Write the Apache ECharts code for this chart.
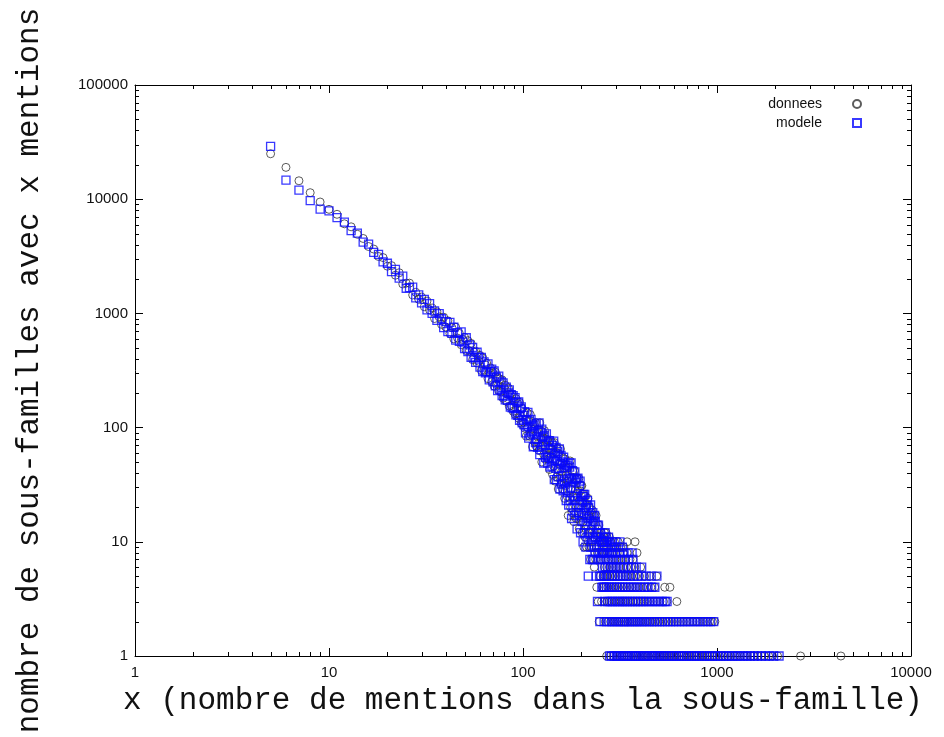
<!DOCTYPE html>
<html>
<head>
<meta charset="utf-8">
<script src="https://cdn.jsdelivr.net/npm/echarts@6/dist/echarts.min.js"></script>
<style>
html, body { margin: 0; padding: 0; background: #fff; }
#chart { width: 944px; height: 737px; }
</style>
</head>
<body>
<div id="chart"></div>
<script>
// first x value of the two "main" arrays, one count per integer x
var firstMention = 5;

// donnees : count for x = 5, 6, 7 ... 260
var donneesMain = [
  25000, 19000, 14500, 11400, 9450, 8150, 7375, 6090, 5730, 4930, 4530, 3850, 3660, 3150, 3080, 2590,
  2620, 2160, 2270, 1810, 1840, 1840, 1450, 1530, 1330, 1390,
  1144, 1283, 1074, 1115, 902, 1031, 930, 802, 926, 760,
  861, 666, 749, 598, 756, 608, 667, 532, 590, 616,
  473, 577, 470, 546, 393, 458, 466, 367, 382, 429,
  316, 409, 317, 354, 366, 268, 305, 333, 253, 302,
  231, 306, 238, 273, 210, 266, 205, 262, 181, 221,
  235, 170, 197, 222, 154, 196, 156, 196, 139, 170,
  131, 179, 133, 162, 121, 166, 127, 109, 147, 112,
  136, 99, 117, 84, 135, 100, 115, 84, 130, 87, 97, 68, 109, 98, 75, 111, 69, 84, 96, 73,
  63, 110, 69, 80, 50, 92, 81, 58, 94, 53, 67, 79, 56, 78, 53, 66, 43, 78, 55, 65,
  74, 39, 61, 46, 74, 34, 52, 61, 37, 66, 43, 29, 59, 48, 36, 65, 32, 41, 49, 29,
  54, 36, 44, 24, 53, 31, 38, 44, 25, 34,
  17, 45, 36, 24, 51, 20, 29, 37, 18, 42, 25, 33, 15, 42, 21, 28, 35, 16, 26, 36,
  16, 28, 20, 36, 13, 23, 28, 15, 31, 18,
  31, 12, 22, 15, 26, 9, 17, 22, 11, 25, 13, 17, 9, 21, 14, 24, 10, 17, 9, 20,
  12, 16, 7, 13, 18, 9, 19, 10, 7, 15, 11, 17, 6, 12, 8, 14, 7, 17, 9, 4,
  12, 8, 13, 3, 10, 14, 2, 8, 11, 5, 10, 7, 12, 3, 8, 10, 4, 9, 5, 8
];

// modele : count for x = 5, 6, 7 ... 260
var modeleMain = [
  29000, 14700, 12000, 9700, 8200, 7900, 6900, 6300, 5300, 5050, 4200, 4050, 3420, 3290, 2830, 2750,
  2320, 2430, 2040, 2120, 1660, 1680, 1700, 1370, 1450, 1235,
  1328, 1073, 1218, 999, 1052, 869, 994, 898, 751, 848,
  692, 836, 670, 756, 583, 678, 569, 688, 561, 493,
  612, 464, 530, 413, 503, 409, 373, 457, 414, 338,
  412, 310, 376, 301, 308, 362, 262, 309, 325, 252,
  313, 232, 276, 211, 282, 216, 251, 191, 246, 189,
  175, 226, 174, 201, 214, 151, 194, 149, 190, 147,
  183, 129, 166, 128, 168, 116, 147, 152, 110, 128,
  106, 138, 90, 117, 102, 136, 81, 114, 86, 118, 92, 103, 68, 105, 89, 74, 108, 79, 67, 95,
  110, 58, 91, 64, 97, 71, 83, 49, 85, 70, 55, 88, 60, 49, 75, 55, 77, 45, 64, 54,
  46, 70, 51, 76, 35, 59, 44, 67, 35, 51, 62, 37, 44, 65, 29, 48, 57, 32, 38, 50,
  28, 55, 34, 45, 29, 47, 23, 35, 47, 28,
  49, 21, 36, 45, 23, 30, 49, 16, 34, 42, 20, 25, 36, 17, 41, 23, 33, 18, 35, 13,
  25, 36, 18, 18, 31, 21, 34, 12, 25, 17,
  23, 15, 25, 10, 26, 19, 12, 26, 14, 20, 9, 21, 15, 11, 23, 16, 5, 20, 12, 17,
  7, 12, 21, 9, 17, 10, 14, 7, 18, 11, 15, 7, 9, 17, 8, 15, 11, 5, 12, 9,
  14, 3, 11, 7, 14, 8, 12, 5, 2, 7, 12, 5, 10, 8, 4, 10, 6, 8, 4, 10
];

// tail (x > 260): x values having count 1, 2, 3 ... (row index + 1)
var donneesTail = [
  [270, 281, 293, 305, 316, 324, 333, 345, 352, 361, 372, 379, 388, 398, 407, 415, 426, 436, 444, 457,
   468, 477, 489, 503, 514, 527, 538, 552, 567, 580, 594, 607, 623, 641, 656, 672, 690, 707, 725, 744,
   763, 781, 802, 826, 847, 870, 893, 919, 944, 968, 996, 1031, 1068, 1097, 1139, 1178, 1231, 1264,
   1317, 1382, 1423, 1489, 1541, 1617, 1688, 1752, 1845, 1933, 2052, 2697, 4352],
  [266, 275, 283, 292, 298, 306, 313, 322, 331, 337, 346, 356, 364, 373, 384, 395, 404, 416, 429, 441,
   453, 466, 482, 497, 512, 529, 547, 563, 584, 603, 625, 649, 671, 698, 724, 752, 786, 815, 849, 881,
   915, 947, 975],
  [262, 271, 278, 286, 295, 303, 312, 320, 329, 339, 348, 359, 370, 382, 393, 406, 421, 437, 452, 471,
   489, 508, 530, 551, 621],
  [261, 267, 274, 284, 292, 300, 309, 321, 330, 342, 355, 366, 381, 397, 414, 433, 456, 477, 538, 572],
  [265, 273, 282, 290, 299, 311, 322, 336, 348, 363, 381, 399, 423, 452, 489],
  [263, 270, 279, 288, 301, 313, 327, 341, 359, 377, 404],
  [266, 276, 285, 298, 311, 324, 339, 356, 368],
  [262, 274, 281, 293, 306, 315, 328, 344, 387],
  [261, 269, 277, 291, 303, 318, 331],
  [264, 272, 283, 296, 309, 344, 378],
  [262, 271, 279],
  [263, 268]
];

var modeleTail = [
  [279, 286, 296, 303, 311, 320, 329, 337, 346, 356, 365, 375, 384, 395, 405, 417, 428, 440, 452, 465,
   478, 492, 506, 520, 535, 551, 567, 584, 601, 619, 638, 657, 677, 697, 718, 740, 763, 786, 810, 835,
   861, 888, 916, 945, 975, 1006, 1041, 1077, 1112, 1151, 1193, 1236, 1280, 1327, 1379, 1431, 1490,
   1552, 1619, 1694, 1776, 1861, 1958, 2089],
  [262, 270, 278, 287, 294, 302, 310, 318, 327, 334, 343, 352, 361, 370, 380, 390, 401, 412, 424, 436,
   449, 462, 476, 491, 506, 522, 539, 557, 575, 595, 616, 637, 660, 684, 709, 735, 764, 792, 822, 855,
   889, 926, 962],
  [264, 273, 281, 289, 298, 308, 316, 326, 335, 345, 356, 367, 379, 391, 404, 417, 432, 448, 465, 483,
   501, 521, 540, 553],
  [263, 270, 278, 287, 295, 304, 314, 325, 336, 348, 361, 374, 389, 405, 422, 441, 460, 478],
  [262, 269, 278, 287, 296, 307, 318, 330, 343, 357, 372, 389, 408, 431, 458, 490],
  [265, 274, 284, 294, 305, 318, 331, 347, 362, 383, 409],
  [262, 271, 281, 292, 304, 317, 332, 349, 369],
  [261, 268, 278, 289, 300, 314, 329, 348, 365],
  [264, 273, 285, 296, 310, 325],
  [263, 270, 280, 289, 301, 316],
  [261, 268, 276],
  [265]
];

// axis ticks
var xMajor = [1, 10, 100, 1000, 10000];
var yMajor = [1, 10, 100, 1000, 10000, 100000];
var minorSteps = [2, 3, 4, 5, 6, 7, 8, 9];

function buildPoints(main, tail) {
  var pts = [];
  main.forEach(function (c, i) { pts.push([firstMention + i, c]); });
  tail.forEach(function (row, r) {
    row.forEach(function (x) { pts.push([x, r + 1]); });
  });
  return pts;
}

var chart = echarts.init(document.getElementById('chart'), null, { renderer: 'canvas' });

var tickFont = { fontFamily: 'Liberation Sans, Arial, sans-serif', fontSize: 15, color: '#111' };
var nameFont = { fontFamily: 'Liberation Mono, Courier New, monospace', fontSize: 31, color: '#111' };

function boxAxis(max, pos) {
  return {
    type: 'log', logBase: 10, position: pos, min: 1, max: max,
    axisLine: { show: true, lineStyle: { color: '#000', width: 1 } },
    axisTick: { show: true, inside: true, length: 8, lineStyle: { color: '#000' } },
    axisLabel: { show: false },
    splitLine: { show: false }
  };
}

var option = {
  animation: false,
  backgroundColor: '#fff',
  grid: { left: 135, right: 33, top: 85, bottom: 81, containLabel: false },
  legend: {
    orient: 'vertical',
    align: 'right',
    right: 77,
    top: 92,
    itemWidth: 8,
    itemHeight: 8,
    itemGap: 5,
    selectedMode: false,
    textStyle: {
      fontFamily: 'Liberation Sans, Arial, sans-serif', fontSize: 14, color: '#111',
      padding: [0, 26, 0, 0]
    },
    data: ['donnees', 'modele']
  },
  xAxis: [{
    type: 'log', logBase: 10, min: 1, max: 10000,
    name: 'x (nombre de mentions dans la sous-famille)',
    nameLocation: 'middle', nameGap: 25,
    nameTextStyle: nameFont,
    axisLine: { show: true, lineStyle: { color: '#000', width: 1 } },
    axisTick: { show: true, inside: true, length: 8, lineStyle: { color: '#000' } },
    axisLabel: Object.assign({ margin: 9, formatter: function (v) { return String(Math.round(v)); } }, tickFont),
    splitLine: { show: false }
  }, boxAxis(10000, 'top')],
  yAxis: [{
    type: 'log', logBase: 10, min: 1, max: 100000,
    name: 'nombre de sous-familles avec x mentions',
    nameLocation: 'middle', nameGap: 90, nameRotate: 90,
    nameTextStyle: nameFont,
    axisLine: { show: true, lineStyle: { color: '#000', width: 1 } },
    axisTick: { show: true, inside: true, length: 8, lineStyle: { color: '#000' } },
    axisLabel: Object.assign({ margin: 7, formatter: function (v) { return String(Math.round(v)); } }, tickFont),
    splitLine: { show: false }
  }, boxAxis(100000, 'right')],
  series: [{
    name: 'donnees',
    type: 'scatter',
    symbol: 'circle',
    symbolSize: 8,
    itemStyle: { color: 'transparent', borderColor: '#333', borderWidth: 1 },
    emphasis: { disabled: true },
    data: buildPoints(donneesMain, donneesTail)
  }, {
    name: 'modele',
    type: 'scatter',
    symbol: 'rect',
    symbolSize: 8,
    itemStyle: { color: 'transparent', borderColor: '#0808ff', borderWidth: 1.3 },
    emphasis: { disabled: true },
    data: buildPoints(modeleMain, modeleTail)
  }]
};

chart.setOption(option);

// minor ticks at 2..9 of each decade, inside the box on all four sides
var bottomPx = chart.convertToPixel({ yAxisIndex: 0 }, 1);
var topPx = chart.convertToPixel({ yAxisIndex: 0 }, 100000);
var leftPx = chart.convertToPixel({ xAxisIndex: 0 }, 1);
var rightPx = chart.convertToPixel({ xAxisIndex: 0 }, 10000);
var minor = [];
function tick(x1, y1, x2, y2) {
  minor.push({ type: 'line', silent: true,
    shape: { x1: x1, y1: y1, x2: x2, y2: y2 },
    style: { stroke: '#000', lineWidth: 1 } });
}
xMajor.slice(0, -1).forEach(function (d) {
  minorSteps.forEach(function (k) {
    var px = Math.round(chart.convertToPixel({ xAxisIndex: 0 }, k * d)) + 0.5;
    tick(px, bottomPx, px, bottomPx - 4);
    tick(px, topPx, px, topPx + 4);
  });
});
yMajor.slice(0, -1).forEach(function (d) {
  minorSteps.forEach(function (k) {
    var py = Math.round(chart.convertToPixel({ yAxisIndex: 0 }, k * d)) + 0.5;
    tick(leftPx, py, leftPx + 4, py);
    tick(rightPx, py, rightPx - 4, py);
  });
});
chart.setOption({ graphic: minor });
</script>
</body>
</html>
